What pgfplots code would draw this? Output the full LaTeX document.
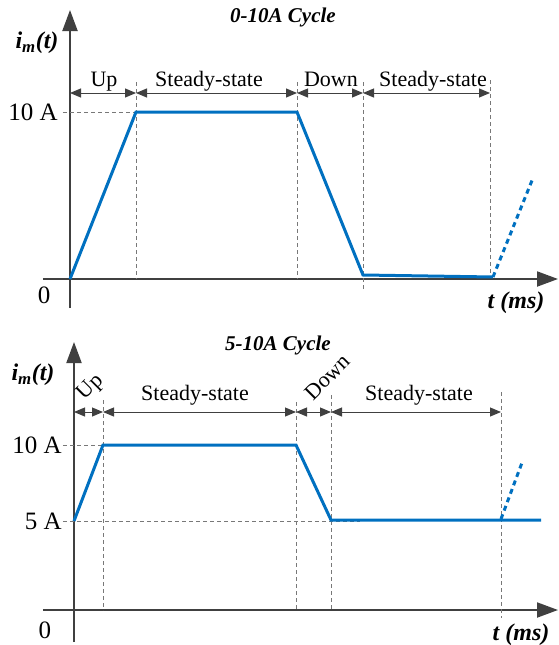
\documentclass[border=0pt]{standalone}
\usepackage{fontspec}
\setmainfont{Liberation Serif}
\usepackage{pgfplots}
\pgfplotsset{compat=1.18}
\usetikzlibrary{arrows.meta}

\definecolor{trace}{RGB}{0,112,192}
\definecolor{axgray}{RGB}{64,64,64}
\definecolor{dashgray}{RGB}{120,120,120}
\newcommand\fs{\fontsize{22}{26}\selectfont}
\newcommand\fb{\fontsize{25}{29}\selectfont}

\pgfplotsset{
  cyc/.style={
    x=1pt, y=1pt, anchor=south west,
    axis lines=middle, enlargelimits=false, clip=false,
    axis line style={-{Triangle[length=21pt,width=15pt]}, line width=2pt, draw=axgray},
    xtick=\empty, major tick length=0pt,
    yticklabel style={font=\fb, inner sep=0pt, anchor=east, xshift=-12pt},
  },
}
\tikzset{
  dim/.style={{Triangle[length=11pt,width=9pt]}-{Triangle[length=11pt,width=9pt]}, line width=1pt, draw=axgray},
  dsh/.style={dashgray, line width=1pt, dash pattern=on 4pt off 3pt},
  lbl/.style={font=\fs, inner sep=0pt},
  ttl/.style={font=\fontsize{21}{25}\selectfont\bfseries\itshape, inner sep=0pt},
  big/.style={font=\fontsize{24}{28}\selectfont\bfseries\itshape, inner sep=0pt},
}

\begin{document}
\begin{tikzpicture}
\useasboundingbox (0,0) rectangle (558pt,-645pt);

% ---- 0-10A cycle ----
\begin{axis}[cyc, at={(43pt,-308pt)},
  xmin=-27, xmax=488, ymin=-29, ymax=269,
  ytick={167}, yticklabels={10 A}]
\draw[dsh] (axis cs:-7,167) -- (axis cs:66,167);
\draw[dsh] (axis cs:66,197) -- (axis cs:66,0);
\draw[dsh] (axis cs:227,197) -- (axis cs:227,0);
\draw[dsh] (axis cs:293,197) -- (axis cs:293,-11);
\draw[dsh] (axis cs:420,199) -- (axis cs:420,2);
\addplot[draw=trace, line width=3pt, no marks] coordinates {(0,0) (66,167) (227,167) (293,4) (423,2)};
\addplot[draw=trace, line width=3pt, no marks, dash pattern=on 5pt off 4pt] coordinates {(423,2) (463,101)};
\draw[dim] (axis cs:0,186) -- (axis cs:66,186);
\draw[dim] (axis cs:66,186) -- (axis cs:227,186);
\draw[dim] (axis cs:227,186) -- (axis cs:293,186);
\draw[dim] (axis cs:293,186) -- (axis cs:420,186);
\node[lbl, anchor=base] at (axis cs:34,193) {Up};
\node[lbl, anchor=base] at (axis cs:139,193) {Steady-state};
\node[lbl, anchor=base] at (axis cs:261,193) {Down};
\node[lbl, anchor=base] at (axis cs:363,193) {Steady-state};
\node[ttl] at (axis cs:213,262) {0-10A Cycle};
\node[big] at (axis cs:-33,236) {i\textsubscript{m}(t)};
\node[big] at (axis cs:446,-24) {t (ms)};
\node[lbl, font=\fb] at (axis cs:-26,-16) {0};
\end{axis}

% ---- 5-10A cycle ----
\begin{axis}[cyc, at={(43pt,-642pt)},
  xmin=-31, xmax=484, ymin=-32, ymax=268,
  ytick={89,165}, yticklabels={5 A,10 A}]
\draw[dsh] (axis cs:-11,165) -- (axis cs:29,165);
\draw[dsh] (axis cs:-11,89) -- (axis cs:286,89);
\draw[dsh] (axis cs:29,210) -- (axis cs:29,0);
\draw[dsh] (axis cs:222,208) -- (axis cs:222,0);
\draw[dsh] (axis cs:257,215) -- (axis cs:257,0);
\draw[dsh] (axis cs:427,218) -- (axis cs:427,-8);
\addplot[draw=trace, line width=3pt, no marks] coordinates {(0,89) (29,165) (222,165) (257,90) (467,90)};
\addplot[draw=trace, line width=3pt, no marks, dash pattern=on 5pt off 4pt] coordinates {(427,91) (449,150)};
\draw[dim] (axis cs:0,198) -- (axis cs:29,198);
\draw[dim] (axis cs:29,198) -- (axis cs:222,198);
\draw[dim] (axis cs:222,198) -- (axis cs:257,198);
\draw[dim] (axis cs:257,198) -- (axis cs:427,198);
\node[lbl, rotate=45] at (axis cs:17,222) {Up};
\node[lbl, rotate=45] at (axis cs:253,233) {Down};
\node[lbl, anchor=base] at (axis cs:121,210) {Steady-state};
\node[lbl, anchor=base] at (axis cs:345,210) {Steady-state};
\node[ttl] at (axis cs:204,265) {5-10A Cycle};
\node[big] at (axis cs:-41,235) {i\textsubscript{m}(t)};
\node[big] at (axis cs:447,-25) {t (ms)};
\node[lbl, font=\fb] at (axis cs:-29,-20) {0};
\end{axis}
\end{tikzpicture}
\end{document}
